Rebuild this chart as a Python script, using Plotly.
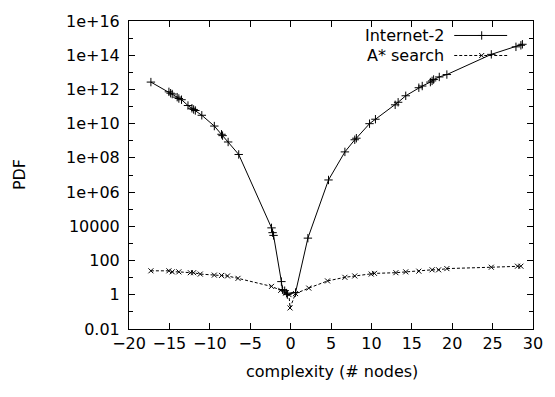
import plotly.graph_objects as go

# ---- data (log10 of PDF) ----
internet_x = [-17.29, -15.06, -14.85, -14.65, -14.04, -13.83, -13.50, -12.70, -12.21, -12.00,
              -11.79, -10.99, -9.44, -8.55, -8.42, -7.73, -6.42, -2.36, -2.23, -2.11,
              -1.14, -1.01, -0.73, -0.49, -0.40, 0.61, 2.14, 4.69, 6.72, 7.94, 8.14,
              9.77, 10.50, 12.94, 13.31, 14.25, 15.87, 16.29, 17.30, 17.51, 17.70,
              18.40, 19.34, 24.84, 27.89, 28.50, 28.69]
internet_log = [12.43, 11.86, 11.78, 11.73, 11.55, 11.47, 11.40, 11.06, 10.90, 10.83,
                10.77, 10.49, 9.86, 9.38, 9.30, 8.93, 8.20, 3.91, 3.63, 3.47,
                0.77, 0.30, 0.24, 0.10, 0.01, 0.13, 3.31, 6.71, 8.35, 9.06, 9.15,
                10.00, 10.26, 11.10, 11.25, 11.63, 12.10, 12.20, 12.43, 12.50, 12.58,
                12.73, 12.87, 14.05, 14.49, 14.58, 14.64]

astar_x = [-17.29, -15.06, -14.65, -13.83, -12.41, -12.00, -11.18, -9.44, -8.55, -7.81,
           -6.51, -2.36, -1.22, -0.61, -0.20, -0.07, 0.61, 2.25, 4.57, 6.72, 7.94,
           9.98, 10.38, 13.03, 14.25, 15.87, 17.51, 18.32, 19.34, 24.84, 28.08, 28.50]
astar_log = [1.40, 1.40, 1.34, 1.34, 1.29, 1.29, 1.21, 1.15, 1.13, 1.10,
             0.96, 0.49, 0.26, 0.10, 0.01, -0.77, 0.07, 0.39, 0.81, 1.02, 1.10,
             1.21, 1.25, 1.29, 1.34, 1.38, 1.46, 1.46, 1.53, 1.61, 1.67, 1.67]

series_names = ["Internet-2", "A* search"]
y_tick_exps = list(range(-2, 17, 2))
y_tick_labels = ["0.01", "1", "100", "10000", "1e+06", "1e+08", "1e+10", "1e+12", "1e+14", "1e+16"]
x_ticks = list(range(-20, 31, 5))

internet_y = [10 ** v for v in internet_log]
astar_y = [10 ** v for v in astar_log]

FONT = "DejaVu Sans"
FS = 16

fig = go.Figure()
fig.add_trace(go.Scatter(
    x=internet_x, y=internet_y, mode="lines+markers", name=series_names[0],
    line=dict(color="black", width=1),
    marker=dict(symbol="cross-thin", size=6, line=dict(color="black", width=1)),
    showlegend=False))
fig.add_trace(go.Scatter(
    x=astar_x, y=astar_y, mode="lines+markers", name=series_names[1],
    line=dict(color="black", width=1, dash="3px,2px"),
    marker=dict(symbol="x-thin", size=5, line=dict(color="black", width=1)),
    showlegend=False))

# legend (gnuplot style: text left, sample right)
leg_y = [0.953, 0.888]
leg_dash = ["solid", "3px,2px"]
leg_sym = ["cross-thin", "x-thin"]
leg_size = [6, 5]
for i in range(2):
    fig.add_annotation(xref="paper", yref="paper", x=0.785, y=leg_y[i], text=series_names[i],
                       showarrow=False, xanchor="right", yanchor="middle",
                       font=dict(family=FONT, size=FS, color="black"))
    fig.add_shape(type="line", xref="paper", yref="paper", x0=0.805, x1=0.936,
                  y0=leg_y[i], y1=leg_y[i], line=dict(color="black", width=1, dash=leg_dash[i]))
    fig.add_trace(go.Scatter(
        x=[0.873], y=[leg_y[i]], xaxis="x2", yaxis="y2", mode="markers", showlegend=False,
        marker=dict(symbol=leg_sym[i], size=leg_size[i], line=dict(color="black", width=1))))

axis_common = dict(showline=True, linecolor="black", linewidth=1, mirror="ticks",
                   ticks="inside", tickcolor="black", tickwidth=1, showgrid=False, zeroline=False,
                   tickfont=dict(family=FONT, size=FS, color="black"))

fig.update_layout(
    width=555, height=397,
    margin=dict(l=129, r=16, t=13, b=68),
    paper_bgcolor="white", plot_bgcolor="white",
    font=dict(family=FONT, size=FS, color="black"),
    xaxis=dict(range=[-20, 30], tickvals=x_ticks, ticklen=6, ticklabelstandoff=0, **axis_common),
    yaxis=dict(type="log", range=[-2, 16], tickvals=[10 ** e for e in y_tick_exps],
               ticktext=y_tick_labels, ticklen=6, ticklabelstandoff=5,
               minor=dict(tickvals=[10 ** e for e in range(-1, 16, 2)], ticklen=4,
                          ticks="inside", tickcolor="black", tickwidth=1),
               **axis_common),
    xaxis2=dict(range=[0, 1], overlaying="x", visible=False),
    yaxis2=dict(range=[0, 1], overlaying="y", visible=False),
)

fig.add_annotation(xref="paper", yref="paper", x=0.503, y=-0.138, yanchor="middle",
                   text="complexity (# nodes)", showarrow=False,
                   font=dict(family=FONT, size=FS, color="black"))
fig.add_annotation(xref="paper", yref="paper", x=-0.272, y=0.5, xanchor="center",
                   text="PDF", showarrow=False, textangle=-90,
                   font=dict(family=FONT, size=FS, color="black"))

fig.write_html("out.html")
